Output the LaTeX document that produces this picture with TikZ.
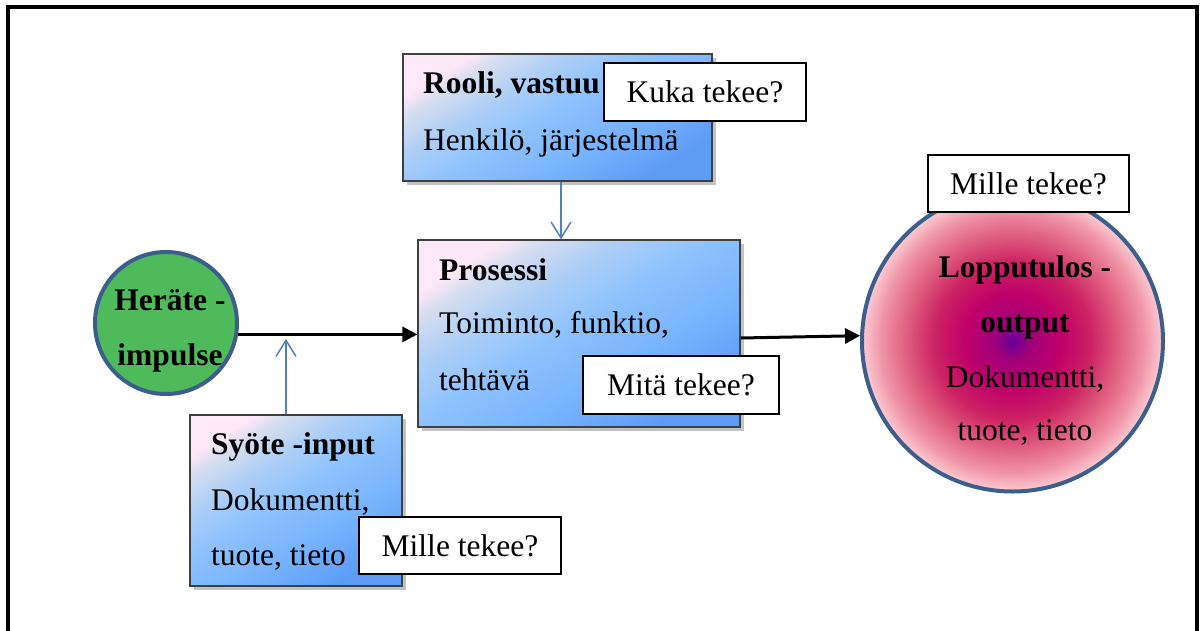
\documentclass[tikz,border=0pt]{standalone}
\usepackage{fontspec}
\setmainfont{Liberation Serif}
\usetikzlibrary{arrows.meta,shadows}

\definecolor{boxA}{HTML}{FCE8F6}
\definecolor{boxAB}{HTML}{D8DEF0}
\definecolor{boxB}{HTML}{B0D0F5}
\definecolor{boxBC}{HTML}{8EC2FD}
\definecolor{boxC}{HTML}{76B2FC}
\definecolor{boxD}{HTML}{5C9CF6}
\definecolor{ringblue}{HTML}{3B5E8C}
\definecolor{leafgreen}{HTML}{4FBA5C}
\definecolor{feedblue}{HTML}{4F81BD}
\definecolor{redA}{HTML}{660099}
\definecolor{redB}{HTML}{A0007A}
\definecolor{redC}{HTML}{C0006A}
\definecolor{redD}{HTML}{CC2262}
\definecolor{redE}{HTML}{E06282}
\definecolor{redF}{HTML}{F096A8}
\definecolor{redG}{HTML}{FCCCD4}

% diagonal pink-to-blue fill of the rectangles
\pgfdeclarehorizontalshading{boxshade}{100bp}{color(0bp)=(boxA); color(25bp)=(boxA);
  color(29bp)=(boxAB); color(37bp)=(boxB); color(48bp)=(boxBC); color(62bp)=(boxC);
  color(75bp)=(boxD); color(100bp)=(boxD)}
% purple centre fading to pale pink in the result circle
\pgfdeclareradialshading{resultshade}{\pgfpoint{0bp}{0bp}}{color(0bp)=(redA);
  color(3bp)=(redB); color(8bp)=(redC); color(13bp)=(redD); color(18bp)=(redE);
  color(22bp)=(redF); color(25bp)=(redG); color(50bp)=(redG)}

\begin{document}
\begin{tikzpicture}[x=1pt,y=-1pt,
  frameline/.style={line width=3.5pt,draw=black},
  shadedbox/.style={rectangle,inner sep=0pt,draw=black!75,line width=1.3pt,
    shading=boxshade,shading angle=-58,
    drop shadow={shadow xshift=4pt,shadow yshift=-4pt,fill=black!60,opacity=0.4}},
  askbox/.style={rectangle,inner sep=0pt,draw=black,line width=1.2pt,fill=white,
    font=\fontsize{31.5}{36}\selectfont},
  boxhead/.style={anchor=base west,inner sep=0pt,font=\fontsize{31.5}{36}\selectfont\bfseries},
  boxbody/.style={anchor=base west,inner sep=0pt,font=\fontsize{31.5}{36}\selectfont},
  midhead/.style={anchor=base,inner sep=0pt,font=\fontsize{31.5}{36}\selectfont\bfseries},
  midbody/.style={anchor=base,inner sep=0pt,font=\fontsize{31.5}{36}\selectfont},
  trigger/.style={circle,inner sep=0pt,minimum size=142pt,draw=ringblue,line width=4pt,fill=leafgreen},
  result/.style={circle,inner sep=0pt,minimum size=301pt,draw=ringblue,line width=4pt,shading=resultshade},
  flow/.style={draw=black,line width=3pt,-{Triangle[length=15pt,width=15pt]}},
  feed/.style={draw=feedblue,line width=1.5pt,-{Straight Barb[length=16pt,width=20pt,line width=1.5pt]}}]

\useasboundingbox (0,0) rectangle (1203,630);
\clip (0,0) rectangle (1203,630);

% page frame, open towards the bottom
\draw[frameline] (8,645) -- (8,7) -- (1197,7) -- (1197,645);

% role
\node[shadedbox,minimum width=309pt,minimum height=127pt] (role) at (557.5,117.5) {};
\node[boxhead] (roleT) at (423,93) {Rooli, vastuu};
\node[boxbody] (roleB) at (423,150) {Henkilö, järjestelmä};
\node[askbox,minimum width=202pt,minimum height=58pt] (who) at (705,92) {Kuka tekee?};

% process
\node[shadedbox,minimum width=322pt,minimum height=187pt] (proc) at (579,333.5) {};
\node[boxhead] (procT) at (439,280) {Prosessi};
\node[boxbody] (procB1) at (439,333) {Toiminto, funktio,};
\node[boxbody] (procB2) at (439,390) {tehtävä};
\node[askbox,minimum width=196pt,minimum height=58pt] (what) at (681,385) {Mitä tekee?};

% input
\node[shadedbox,minimum width=212pt,minimum height=171pt] (input) at (296,500.5) {};
\node[boxhead] (inT) at (211,454) {Syöte -input};
\node[boxbody] (inB1) at (211,510) {Dokumentti,};
\node[boxbody] (inB2) at (211,565) {tuote, tieto};
\node[askbox,minimum width=202pt,minimum height=57pt] (forIn) at (460,545.5) {Mille tekee?};

% trigger
\node[trigger] (trig) at (166,323) {};
\node[midhead] (trigT1) at (170,310) {Heräte -};
\node[midhead] (trigT2) at (170,365) {impulse};

% result
\node[result] (out) at (1012.5,341) {};
\node[midhead] (outT1) at (1025,277) {Lopputulos -};
\node[midhead] (outT2) at (1025,332) {output};
\node[midbody] (outB1) at (1025,387) {Dokumentti,};
\node[midbody] (outB2) at (1025,440) {tuote, tieto};
\node[askbox,minimum width=201pt,minimum height=57pt] (forOut) at (1028.5,183.5) {Mille tekee?};

% connectors
\draw[flow] (trig.-9) -- (trig.-9 -| proc.west);
\draw[flow] ([yshift=-4.5pt]proc.east) -- (out.178);
\draw[feed] ([xshift=3.5pt]role.south) -- ([xshift=3.5pt]role.south |- proc.north);
\coordinate (inTip) at (286,339);
\draw[feed] (input.north -| inTip) -- (inTip);
\end{tikzpicture}
\end{document}
